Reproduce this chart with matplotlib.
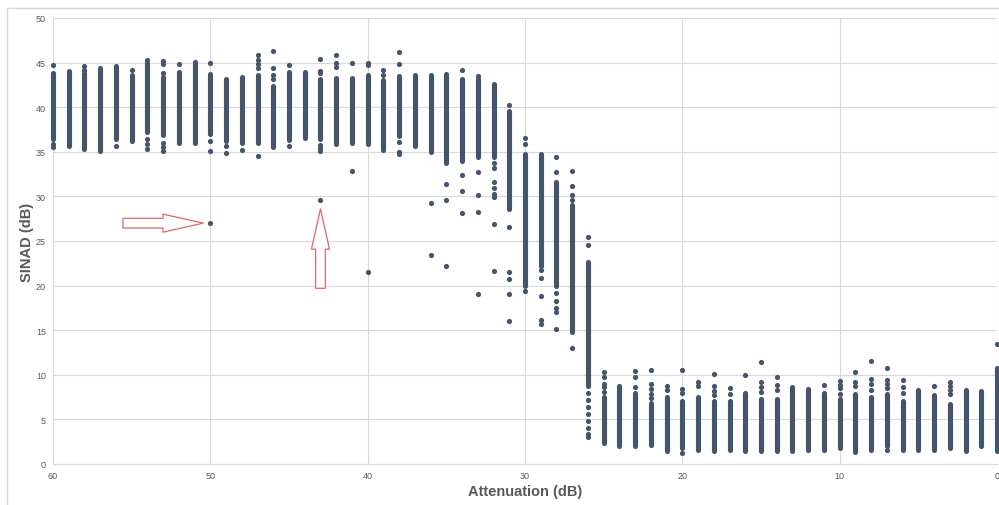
import matplotlib.pyplot as plt
from matplotlib.patches import Rectangle

#  SINAD vs attenuation data (one column of readings per dB step)

atten = list(range(60, -1, -1))

# dense part of each column: lowest and highest reading
band_lo = [36.4, 35.6, 35.3, 35.1, 36.4, 36.2, 37.2, 36.9, 36.0, 36.0,
           37.0, 36.2, 36.0, 36.0, 35.5, 36.3, 36.5, 36.4, 35.9, 36.0,
           35.9, 35.2, 36.8, 35.7, 35.0, 33.8, 34.0, 34.4, 34.4, 28.6,
           20.0, 22.2, 20.0, 14.8, 8.8, 2.3, 2.0, 2.0, 2.1, 1.5,
           1.8, 1.6, 1.5, 1.6, 1.5, 1.5, 1.5, 1.5, 1.6, 1.6,
           1.8, 1.3, 1.6, 2.0, 1.6, 1.6, 1.6, 1.8, 1.5, 2.0,
           1.5]
band_hi = [43.8, 44.1, 43.8, 44.4, 44.6, 43.6, 44.9, 43.4, 44.0, 44.8,
           43.7, 43.2, 43.4, 43.6, 42.4, 44.0, 44.0, 43.2, 43.3, 43.3,
           43.6, 43.0, 43.5, 43.6, 43.6, 43.7, 43.2, 43.2, 42.6, 39.6,
           34.8, 34.7, 31.6, 29.0, 22.6, 7.5, 8.7, 8.0, 6.8, 7.5,
           7.1, 7.5, 7.1, 7.1, 8.0, 7.3, 7.3, 8.6, 8.4, 8.0,
           7.3, 7.8, 7.5, 7.8, 7.1, 8.3, 7.7, 6.7, 8.3, 8.2,
           10.8]

# readings lying apart from the dense part
stray = {
    60: [44.7, 35.9, 35.5],
    58: [44.6, 44.2],
    56: [35.7],
    55: [44.2],
    54: [45.3, 36.4, 35.9, 35.3],
    53: [45.2, 44.8, 43.8, 36.0, 35.5, 35.1],
    52: [44.8],
    51: [45.1],
    50: [44.9, 36.2, 35.1, 27.0],
    49: [35.7, 34.9],
    48: [35.2],
    47: [45.8, 45.3, 44.8, 44.4, 34.5],
    46: [46.3, 44.4, 43.6, 43.2],
    45: [44.7, 35.6],
    43: [45.4, 44.1, 43.8, 35.8, 35.4, 35.1, 29.6],
    42: [45.8, 45.0, 44.5],
    41: [45.0, 32.8],
    40: [45.0, 44.7, 21.5],
    39: [44.2, 43.6],
    38: [46.2, 44.8, 36.1, 35.0, 34.7],
    36: [29.3, 23.4],
    35: [31.4, 29.6, 22.2],
    34: [44.2, 32.4, 30.6, 28.1],
    33: [43.5, 32.7, 30.2, 28.2, 19.1],
    32: [33.8, 33.2, 31.6, 30.9, 30.3, 29.9, 26.9, 21.6],
    31: [40.2, 26.6, 21.5, 20.7, 19.1, 16.0],
    30: [36.6, 35.9, 19.4],
    29: [21.7, 20.8, 18.8, 16.1, 15.7],
    28: [34.4, 32.7, 19.2, 18.3, 17.5, 17.0, 15.1],
    27: [32.9, 31.2, 30.2, 29.6, 13.0],
    26: [25.4, 24.5, 8.0, 7.2, 6.4, 5.6, 4.8, 4.0, 3.4, 3.0],
    25: [10.3, 9.7, 9.0, 8.6, 8.1],
    23: [10.4, 9.7, 8.6],
    22: [10.5, 9.0, 8.4, 7.9, 7.4],
    21: [8.8, 8.3],
    20: [10.5, 8.4, 8.0, 1.2],
    19: [9.2, 8.8],
    18: [10.1, 8.7, 8.2, 7.7],
    17: [8.5, 7.8],
    16: [10.0],
    15: [11.4, 9.2, 8.6, 8.1],
    14: [9.8, 8.9, 8.3],
    11: [8.9],
    10: [9.3, 8.9, 8.5, 7.9],
    9: [10.3, 9.2, 8.7],
    8: [11.5, 9.5, 9.0, 8.3],
    7: [10.8, 9.4, 9.0, 8.5, 1.6],
    6: [9.4, 8.6, 8.0],
    4: [8.8],
    3: [9.2, 8.8, 8.3, 7.8],
    0: [13.5],
}

# readings pointed out on the chart
marked_x = [50, 43]
marked_y = [27.0, 29.6]

dot_color = "#44546a"
grid_color = "#d9d9d9"
text_color = "#595959"

plt.rcParams["font.family"] = ["Liberation Sans", "DejaVu Sans"]

fig = plt.figure(figsize=(9.99, 5.06), dpi=100)
fig.patches.append(Rectangle((7 / 999, -0.2), 1.2, 1.2 - 9 / 506,
                             transform=fig.transFigure, fill=False,
                             edgecolor=grid_color, linewidth=1.0))
ax = fig.add_axes([53 / 999, 1 - 465 / 506, 944 / 999, 446 / 506])

# dense columns
for x, lo, hi in zip(atten, band_lo, band_hi):
    ax.plot([x, x], [lo, hi], color=dot_color, linewidth=3.7,
            solid_capstyle="round", clip_on=False, zorder=3)

# single readings
sx = [x for x, ys in stray.items() for _ in ys]
sy = [y for ys in stray.values() for y in ys]
ax.scatter(sx, sy, s=14, color=dot_color, linewidths=0, clip_on=False, zorder=3)

# hollow arrows
arrow_style = "simple,head_length=29,head_width=13,tail_width=7"
ax.annotate("", xy=(marked_x[0] + 0.45, marked_y[0]),
            xytext=(marked_x[0] + 5.55, marked_y[0]),
            arrowprops=dict(arrowstyle=arrow_style, mutation_scale=1,
                            fc="white", ec="#e06666", lw=0.9,
                            shrinkA=0, shrinkB=0))
ax.annotate("", xy=(marked_x[1], marked_y[1] - 1.0),
            xytext=(marked_x[1], marked_y[1] - 9.9),
            arrowprops=dict(arrowstyle=arrow_style, mutation_scale=1,
                            fc="white", ec="#e06666", lw=0.9,
                            shrinkA=0, shrinkB=0))

ax.set_xlim(60, 0)
ax.set_ylim(0, 50)
ax.set_xticks(range(60, -1, -10))
ax.set_yticks(range(0, 51, 5))
ax.grid(True, color=grid_color, linewidth=0.8)
ax.set_axisbelow(True)
for side in ["top", "right", "left"]:
    ax.spines[side].set_visible(False)
ax.spines["bottom"].set_color(grid_color)
ax.tick_params(length=0, pad=5, labelsize=6.5, labelcolor=text_color)

ax.set_xlabel("Attenuation (dB)", fontsize=10.5, fontweight="bold",
              color=text_color, labelpad=3)
ax.set_ylabel("SINAD (dB)", fontsize=10.5, fontweight="bold",
              color=text_color)
ax.yaxis.set_label_coords(-0.02, 0.5)

plt.savefig("out.png", dpi=100)
